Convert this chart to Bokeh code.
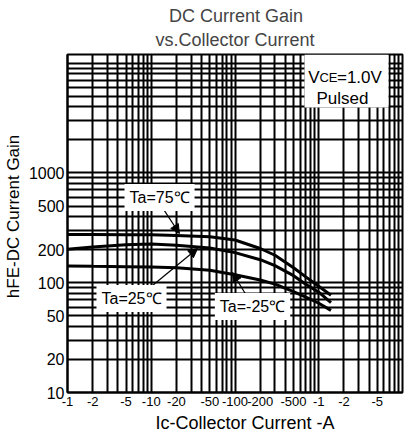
from bokeh.plotting import figure
from bokeh.models import (FixedTicker, Label, Arrow, NormalHead, Title, BoxAnnotation,
                          Range1d, CustomJSTickFormatter, NumeralTickFormatter)
from bokeh.embed import file_html
from bokeh.resources import INLINE

# ---- data ----
ic = [0.001, 0.002, 0.005, 0.01, 0.02, 0.05, 0.1, 0.2, 0.3, 0.5, 0.7, 1.0, 1.4]
hfe_75 = [275, 275, 274, 273, 270, 262, 245, 205, 178, 137, 113, 93, 77]
hfe_25 = [202, 212, 222, 225, 220, 207, 188, 162, 143, 116, 97, 82, 66]
hfe_m25 = [142, 141, 140, 139, 137, 130, 118, 106, 97, 83, 74, 65, 56]

x_ticks = [0.001, 0.002, 0.005, 0.01, 0.02, 0.05, 0.1, 0.2, 0.5, 1, 2, 5]
x_tick_labels = ["-1", "-2", "-5", "-10", "-20", "-50", "-100", "-200", "-500", "-1", "-2", "-5"]
y_ticks = [10, 20, 50, 100, 200, 500, 1000]

FONT = "Liberation Sans"
NB = "\u00a0"

x_all = [m * 10 ** e for e in range(-3, 1) for m in range(1, 10)] + [10]
x_minor = [v for v in x_all if all(abs(v - t) > 1e-9 for t in x_ticks)]
y_all = [m * 10 ** e for e in range(1, 4) for m in range(1, 10)] + [10000]
y_minor = [v for v in y_all if all(abs(v - t) > 1e-9 for t in y_ticks)]

p = figure(frame_width=335, frame_height=338, x_axis_type="log", y_axis_type="log",
           x_range=Range1d(0.001, 10), y_range=Range1d(10, 12000),
           output_backend="svg", toolbar_location=None,
           min_border_left=60, min_border_right=2, min_border_top=46, min_border_bottom=34,
           background_fill_color="white", border_fill_color="white")

p.add_layout(Title(text=NB + NB + "\u2009" + "DC Current Gain\nvs.Collector Current",
                   align="center", text_font=FONT,
                   text_font_size="18px", text_font_style="normal", text_line_height=1.22,
                   standoff=8), "above")

p.xaxis.ticker = FixedTicker(ticks=x_ticks, minor_ticks=x_minor)
p.yaxis.ticker = FixedTicker(ticks=y_ticks, minor_ticks=y_minor)
p.xaxis.formatter = CustomJSTickFormatter(args=dict(tv=x_ticks, tl=x_tick_labels), code="""
for (let i = 0; i < tv.length; i++) {
  if (Math.abs(Math.log10(tick) - Math.log10(tv[i])) < 1e-6) return tl[i];
}
return '';
""")
p.yaxis.formatter = NumeralTickFormatter(format="0")

for g in (p.xgrid, p.ygrid):
    g.grid_line_color = "black"
    g.grid_line_width = 2
    g.minor_grid_line_color = "black"
    g.minor_grid_line_width = 2

p.axis.axis_line_color = "black"
p.axis.axis_line_width = 2
p.axis.major_tick_out = 0
p.axis.major_tick_in = 0
p.axis.minor_tick_out = 0
p.axis.minor_tick_in = 0
p.axis.major_label_text_font = FONT
p.axis.major_label_text_color = "black"
p.axis.axis_label_text_font = FONT
p.axis.axis_label_text_font_style = "normal"
p.axis.axis_label_text_color = "black"

p.xaxis.major_label_text_font_size = "13px"
p.xaxis.major_label_standoff = 4
p.xaxis.axis_label = NB * 4 + "Ic-Collector Current -A"
p.xaxis.axis_label_text_font_size = "18px"
p.xaxis.axis_label_standoff = 4

p.yaxis.major_label_text_font_size = "16px"
p.yaxis.major_label_standoff = 3
p.yaxis.axis_label = NB * 3 + "hFE-DC Current Gain"
p.yaxis.axis_label_text_font_size = "17px"
p.yaxis.axis_label_standoff = 3

p.outline_line_color = "black"
p.outline_line_width = 2

for series in (hfe_75, hfe_25, hfe_m25):
    p.line(ic, series, line_color="black", line_width=3)

# condition box
p.add_layout(BoxAnnotation(left=0.676, right=6.81, top=12000, bottom=3945,
                           fill_color="white", fill_alpha=1.0, line_color=None))
p.add_layout(Label(x=1.02, y=7400, text="V", text_align="right", text_baseline="alphabetic",
                   text_font=FONT, text_font_size="17px", text_color="black"))
p.add_layout(Label(x=1.02, y=7400, text="CE", text_align="left", text_baseline="alphabetic",
                   text_font=FONT, text_font_size="13px", text_color="black"))
p.add_layout(Label(x=1.65, y=7400, text="=1.0V", text_align="left", text_baseline="alphabetic",
                   text_font=FONT, text_font_size="17px", text_color="black"))
p.add_layout(Label(x=1.92, y=4765, text="Pulsed", text_align="center", text_baseline="alphabetic",
                   text_font=FONT, text_font_size="17px", text_color="black"))

# curve labels
def tag(x, y, text):
    p.add_layout(Label(x=x, y=y, text=text, text_align="center", text_baseline="middle",
                       text_font=FONT, text_font_size="16px", text_color="black",
                       background_fill_color="white", padding=5))

def arrow(x0, y0, x1, y1):
    p.add_layout(Arrow(end=NormalHead(size=9, fill_color="black", line_color="black"),
                       x_start=x0, y_start=y0, x_end=x1, y_end=y1,
                       line_color="black", line_width=1.2))

arrow(0.0136, 484, 0.0217, 281)
arrow(0.01035, 94.2, 0.0357, 205)
arrow(0.137, 76.4, 0.0933, 124)
tag(0.01256, 597, "Ta=75\u2103")
tag(0.00581, 71.8, "Ta=25\u2103")
tag(0.162, 60.7, "Ta=-25\u2103")

open("out.html", "w").write(file_html(p, INLINE))
